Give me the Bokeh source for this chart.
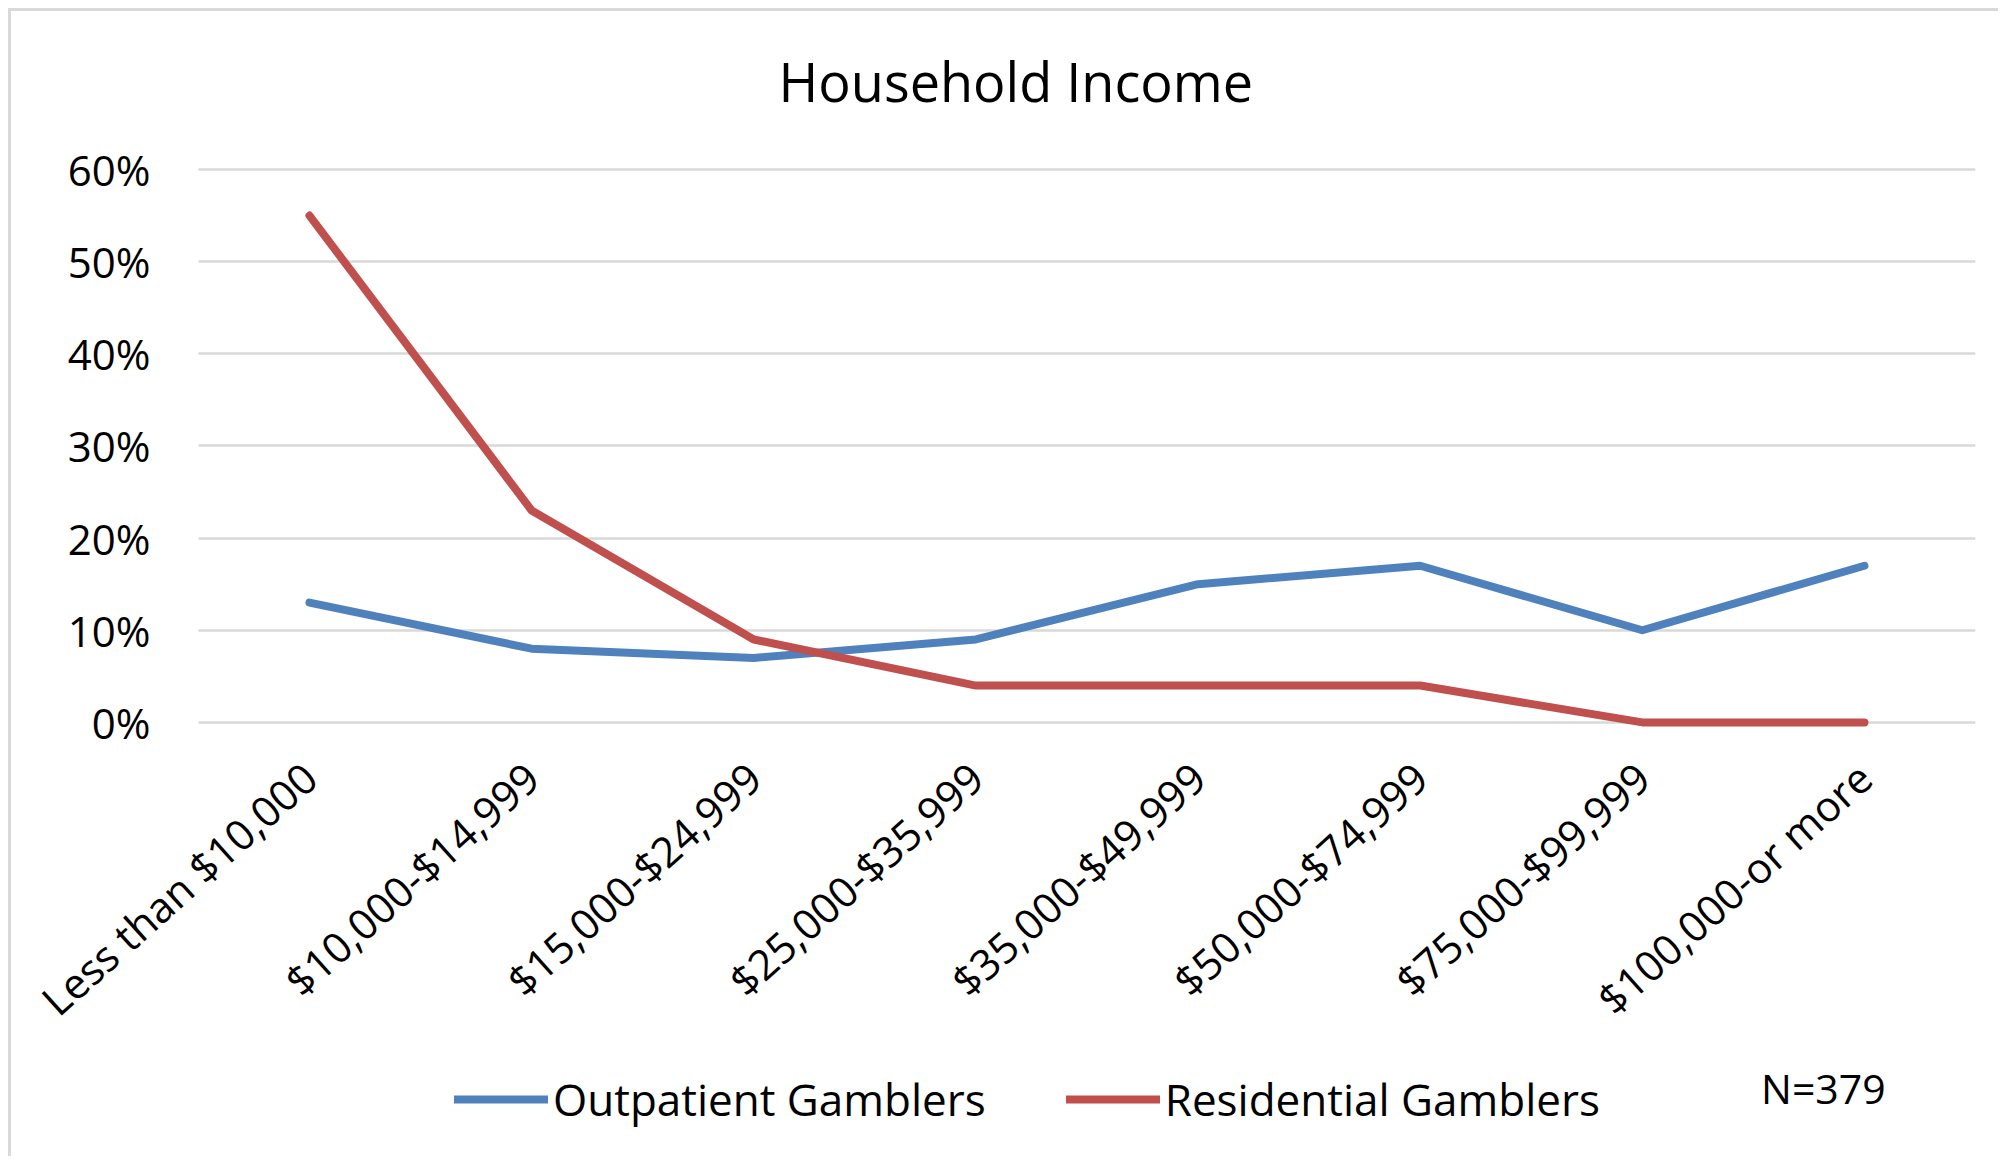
import math
from bokeh.plotting import figure
from bokeh.models import (FixedTicker, NumeralTickFormatter, Legend, LegendItem,
                          Label, Range1d, ColumnDataSource)
from bokeh.embed import file_html
from bokeh.resources import INLINE

categories = ["Less than $10,000", "$10,000-$14,999", "$15,000-$24,999",
              "$25,000-$35,999", "$35,000-$49,999", "$50,000-$74,999",
              "$75,000-$99,999", "$100,000-or more"]
outpatient = [0.13, 0.08, 0.07, 0.09, 0.15, 0.17, 0.10, 0.17]
residential = [0.55, 0.23, 0.09, 0.04, 0.04, 0.04, 0.00, 0.00]
y_ticks = [0, 0.1, 0.2, 0.3, 0.4, 0.5, 0.6]
series_names = ["Outpatient Gamblers", "Residential Gamblers"]
title_text = "Household Income"
note_text = "N=379"

FONT = "Open Sans"
BLUE = "#4f81bd"
RED = "#c0504d"
GRID = "#d9d9d9"

xs = list(range(len(categories)))
n = len(categories)
src = ColumnDataSource(dict(x=xs, out=outpatient, res=residential))

p = figure(x_range=Range1d(-1.328, n - 0.5), y_range=Range1d(-0.47, 0.6315),
           width=1990, height=1148, output_backend="svg", toolbar_location=None,
           min_border_left=3, min_border_right=26, min_border_top=129,
           min_border_bottom=4, title=title_text)
p.styles = {"margin-left": "8px", "margin-top": "8px",
            "border-left": "3px solid #d9d9d9", "border-top": "3px solid #d9d9d9"}
p.outline_line_color = None
p.background_fill_color = "white"
p.border_fill_color = "white"

p.title.text_font = FONT
p.title.text_font_size = "54px"
p.title.text_font_style = "normal"
p.title.text_color = "#000000"
p.title.align = "left"
p.title.offset = 764
p.title.standoff = 45

r1 = p.line("x", "out", source=src, line_color=BLUE, line_width=8,
            line_cap="round", line_join="round")
r2 = p.line("x", "res", source=src, line_color=RED, line_width=8,
            line_cap="round", line_join="round")

p.xgrid.grid_line_color = None
p.ygrid.grid_line_color = GRID
p.ygrid.grid_line_width = 2.5
try:
    p.ygrid.cross_bounds = (-0.5, n - 0.5)
except Exception:
    p.ygrid.grid_line_color = None
    p.segment(x0=[-0.5] * len(y_ticks), x1=[n - 0.5] * len(y_ticks),
              y0=y_ticks, y1=y_ticks, line_color=GRID, line_width=2.5, level="underlay")

p.yaxis.fixed_location = -0.5
p.yaxis.ticker = FixedTicker(ticks=y_ticks)
p.yaxis.formatter = NumeralTickFormatter(format="0%")
p.yaxis.axis_line_color = None
p.yaxis.major_tick_line_color = None
p.yaxis.minor_tick_line_color = None
p.yaxis.major_tick_out = 0
p.yaxis.major_label_standoff = 48
p.yaxis.major_label_text_font = FONT
p.yaxis.major_label_text_font_size = "42px"
p.yaxis.major_label_text_color = "#000000"

p.xaxis.fixed_location = 0
p.xaxis.ticker = FixedTicker(ticks=xs)
p.xaxis.major_label_overrides = {i: c for i, c in zip(xs, categories)}
p.xaxis.axis_line_color = None
p.xaxis.major_tick_line_color = None
p.xaxis.minor_tick_line_color = None
p.xaxis.major_tick_out = 0
p.xaxis.major_label_orientation = math.radians(42)
p.xaxis.major_label_standoff = 48
p.xaxis.major_label_text_font = FONT
p.xaxis.major_label_text_font_size = "42px"
p.xaxis.major_label_text_color = "#000000"

legend = Legend(items=[LegendItem(label=series_names[0], renderers=[r1]),
                       LegendItem(label=series_names[1], renderers=[r2])],
                orientation="horizontal", location=(440, 26),
                glyph_width=94, glyph_height=20, label_standoff=5, spacing=80,
                padding=0, margin=0, border_line_color=None,
                background_fill_alpha=0,
                label_text_font=FONT, label_text_font_size="44px",
                label_text_color="#000000")
p.add_layout(legend, "center")

note = Label(x=6.815, y=-0.397, text=note_text, text_align="center",
             text_baseline="middle", text_font=FONT, text_font_size="41px",
             text_color="#000000")
p.add_layout(note)

open("out.html", "w").write(file_html(p, INLINE))
